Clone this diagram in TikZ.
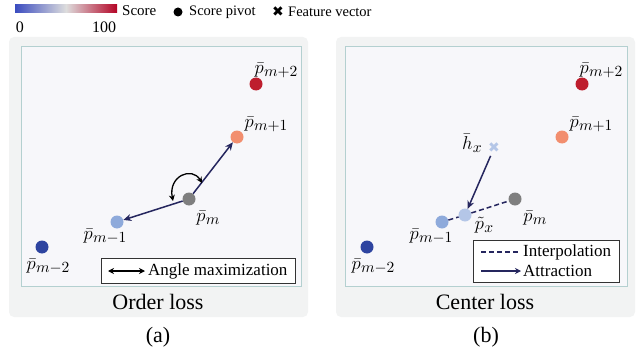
\documentclass[tikz,border=0pt]{standalone}
\usepackage{fontspec}
\setmainfont{Liberation Serif}
\newfontfamily\symfnt{DejaVu Sans}
\usetikzlibrary{arrows.meta}
\newcommand\plab[2]{$#1$\kern0.2pt\raisebox{-2pt}{\fontsize{10}{10}\selectfont$#2$}}
\definecolor{cblue}{HTML}{3B4CC0}
\definecolor{cmid}{HTML}{DDDDDD}
\definecolor{cred}{HTML}{B40426}
\definecolor{pmtwo}{HTML}{2E44A0}
\definecolor{pmone}{HTML}{8EAADB}
\definecolor{pm}{HTML}{7F7F7F}
\definecolor{ppone}{HTML}{F28E6E}
\definecolor{pptwo}{HTML}{BE1E2D}
\definecolor{px}{HTML}{B4C6E7}
\definecolor{navy}{HTML}{25265E}
\definecolor{outerfill}{HTML}{F2F3F3}
\definecolor{innerfill}{HTML}{F7F7FA}
\definecolor{innerdraw}{HTML}{B4D0D0}
\tikzset{
  pnt/.style={circle, fill=#1, minimum size=13pt, inner sep=0pt},
  lbl/.style={font=\fontsize{12}{14}\selectfont, scale=1.55, inner sep=0pt},
  txt/.style={font=\fontsize{17}{19}\selectfont, inner sep=0pt},
  toptxt/.style={font=\fontsize{14.5}{17}\selectfont, inner sep=0pt},
  captxt/.style={font=\fontsize{22}{24}\selectfont, inner sep=0pt},
  navarrow/.style={draw=navy, line width=1.5pt, -{Stealth[length=8pt,width=7pt]}},
  navdash/.style={draw=navy, line width=1.5pt, dash pattern=on 5pt off 3pt},
  outerbox/.style={fill=outerfill, rounded corners=5pt},
  innerbox/.style={fill=innerfill, draw=innerdraw, line width=0.8pt},
  legbox/.style={draw=black!80, line width=0.8pt, fill=white},
}
\begin{document}
\begin{tikzpicture}[x=1pt,y=-1pt]
\useasboundingbox (0,0) rectangle (640,353);
% top legend
\shade[left color=cblue, right color=cred, middle color=cmid] (15,5) rectangle (117,13);
\node[toptxt, anchor=west, font=\fontsize{15}{17}\selectfont] (score) at (122,11) {Score};
\node[toptxt, anchor=center, font=\fontsize{16}{18}\selectfont] (zero) at (20,27) {0};
\node[toptxt, anchor=center, font=\fontsize{16}{18}\selectfont] (hundred) at (104,27) {100};
\node[circle, fill=black, minimum size=9pt, inner sep=0pt] (legdot) at (178,12) {};
\node[toptxt, anchor=west] (pivot) at (189,12) {Score pivot};
\node[font=\fontsize{14}{16}\symfnt, inner sep=0pt] (legx) at (278,12) {✖};
\node[toptxt, anchor=west] (feat) at (288,12) {Feature vector};

% ===== Panel (a)
\fill[outerbox] (9,37) rectangle (308,317);
\draw[innerbox] (21,46) rectangle (301,286);
\node[pnt=pptwo] (a2) at (256,84) {};
\node[pnt=ppone] (a1) at (237,137) {};
\node[pnt=pm] (a0) at (189,199) {};
\node[pnt=pmone] (am1) at (117,222) {};
\node[pnt=pmtwo] (am2) at (42,247) {};
\node[lbl] (la2) at (276,70) {\plab{\bar{p}}{m{+}2}};
\node[lbl] (la1) at (266,124) {\plab{\bar{p}}{m{+}1}};
\node[lbl] (la0) at (208,218) {\plab{\bar{p}}{m}};
\node[lbl] (lam1) at (105,236) {\plab{\bar{p}}{m{-}1}};
\node[lbl] (lam2) at (48,266) {\plab{\bar{p}}{m{-}2}};
\draw[navarrow] (a0) -- (a1);
\draw[navarrow] (a0) -- (am1);
\coordinate (ca) at (173,201);
\coordinate (cb) at (202,183);
\draw[black, line width=1.3pt, {Stealth[length=6pt,width=6pt]}-{Stealth[length=6pt,width=6pt]}] (ca) .. controls (168,176) and (192,166) .. (cb);
\draw[legbox] (101,258) rectangle (295,283);
\coordinate (la) at (108,271);
\coordinate (lb) at (145,271);
\draw[black, line width=1.5pt, {Stealth[length=6pt,width=6pt]}-{Stealth[length=6pt,width=6pt]}] (la) -- (lb);
\node[txt, anchor=west] (angle) at (148,271) {Angle maximization};
\node[captxt] (ordl) at (158,302) {Order loss};
\node[captxt] (capa) at (158,337) {(a)};

% ===== Panel (b)
\fill[outerbox] (336,37) rectangle (635,317);
\draw[innerbox] (345,46) rectangle (627,286);
\node[pnt=pptwo] (b2) at (582,84) {};
\node[pnt=ppone] (b1) at (562,137) {};
\node[pnt=pm] (b0) at (515,199) {};
\node[pnt=pmone] (bm1) at (442,222) {};
\node[pnt=pmtwo] (bm2) at (367,247) {};
\node[pnt=px] (bx) at (465,215) {};
\node[font=\fontsize{14}{16}\symfnt, inner sep=0pt, text=px] (hx) at (494,148) {✖};
\node[lbl] (lb2) at (601,70) {\plab{\bar{p}}{m{+}2}};
\node[lbl] (lb1) at (591,124) {\plab{\bar{p}}{m{+}1}};
\node[lbl] (lb0) at (535,218) {\plab{\bar{p}}{m}};
\node[lbl] (lbm1) at (431,236) {\plab{\bar{p}}{m{-}1}};
\node[lbl] (lbm2) at (373,266) {\plab{\bar{p}}{m{-}2}};
\node[lbl] (lbx) at (484,225) {\plab{\tilde{p}}{x}};
\node[lbl] (lhx) at (472,143) {\plab{\bar{h}}{x}};
\draw[navdash] (bm1) -- (bx);
\draw[navdash] (bx) -- (b0);
\draw[navarrow, shorten <=3pt] (hx) -- (bx);
\draw[legbox] (473,240) rectangle (619,282);
\coordinate (ia) at (481,252);
\coordinate (ib) at (520,252);
\draw[navdash] (ia) -- (ib);
\node[txt, anchor=west] (interp) at (523,252) {Interpolation};
\coordinate (ta) at (481,271);
\coordinate (tb) at (521,271);
\draw[navarrow, -{Stealth[length=6pt,width=6pt]}] (ta) -- (tb);
\node[txt, anchor=west] (attr) at (523,271) {Attraction};
\node[captxt] (cenl) at (485,302) {Center loss};
\node[captxt] (capb) at (486,337) {(b)};
\end{tikzpicture}
\end{document}
